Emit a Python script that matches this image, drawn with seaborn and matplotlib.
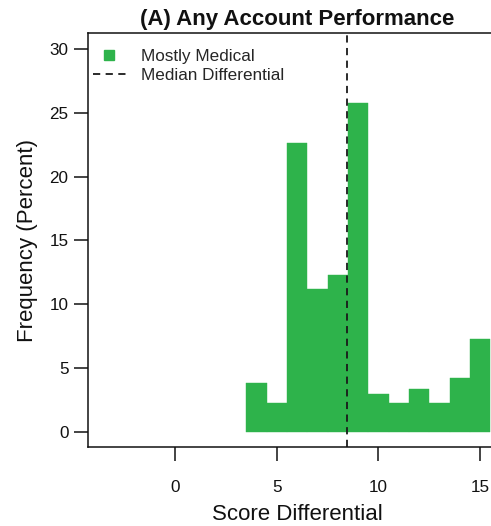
import numpy as np
import pandas as pd
import matplotlib
matplotlib.use("Agg")
import matplotlib.pyplot as plt
from matplotlib.lines import Line2D
import seaborn as sns

# Histogram bins (score differential, centred on integers) and their percentages
score_bins = [4, 5, 6, 7, 8, 9, 10, 11, 12, 13, 14, 15]
freq_pct = [3.84, 2.25, 22.6, 11.17, 12.27, 25.78, 2.96, 2.23, 3.32, 2.25, 4.24, 7.3]
median_diff = 8.47

x_ticks = [0, 5, 10, 15]
y_ticks = [0, 5, 10, 15, 20, 25, 30]

bar_color = "#2eb34b"

df = pd.DataFrame({"score": score_bins, "pct": freq_pct})

sns.set_theme(style="white")
plt.rcParams["font.family"] = ["Liberation Sans", "DejaVu Sans"]

fig = plt.figure(figsize=(4.91, 5.26), dpi=100)
ax = fig.add_axes([88 / 491, 1 - 447 / 526, (507 - 88) / 491, (447 - 33) / 526])

edges = [float(e) for e in np.arange(min(score_bins) - 0.5, max(score_bins) + 1.5, 1.0)]
sns.histplot(data=df, x="score", weights="pct", bins=edges, color=bar_color,
             alpha=1, edgecolor=bar_color, linewidth=0.3, ax=ax)

ax.axvline(median_diff, color="#1a1a1a", linestyle=(0, (4, 3)), linewidth=1.3)

ax.set_xlim(-4.28, 16.32)
ax.set_ylim(-1.2, 31.25)
ax.set_xticks(x_ticks)
ax.set_yticks(y_ticks)
ax.tick_params(axis="x", direction="out", length=10, width=1.1, pad=13.5,
               labelsize=12.3, colors="#111111", bottom=True)
ax.tick_params(axis="y", direction="out", length=10, width=1.1, pad=4,
               labelsize=12.3, colors="#111111", left=True)

for side in ["top", "left", "bottom"]:
    ax.spines[side].set_visible(True)
    ax.spines[side].set_color("#111111")
    ax.spines[side].set_linewidth(1.1)
ax.spines["right"].set_visible(False)

ax.set_xlabel("Score Differential", fontsize=16, color="#111111", labelpad=7)
ax.set_ylabel("Frequency (Percent)", fontsize=16, color="#111111", labelpad=8)
ax.set_title("(A) Any Account Performance", fontsize=16, fontweight="bold",
             color="#111111", pad=6)

handles = [
    Line2D([], [], marker="s", linestyle="none", color=bar_color, markersize=7),
    Line2D([], [], color="#1a1a1a", linestyle=(0, (4, 3)), linewidth=1.3),
]
ax.legend(handles, ["Mostly Medical", "Median Differential"], loc="upper left",
          bbox_to_anchor=(-0.017, 0.99), frameon=False, fontsize=12.3,
          handlelength=1.95, handletextpad=0.88, labelspacing=0.2,
          borderaxespad=0.3)

fig.savefig("out.png", dpi=100)
